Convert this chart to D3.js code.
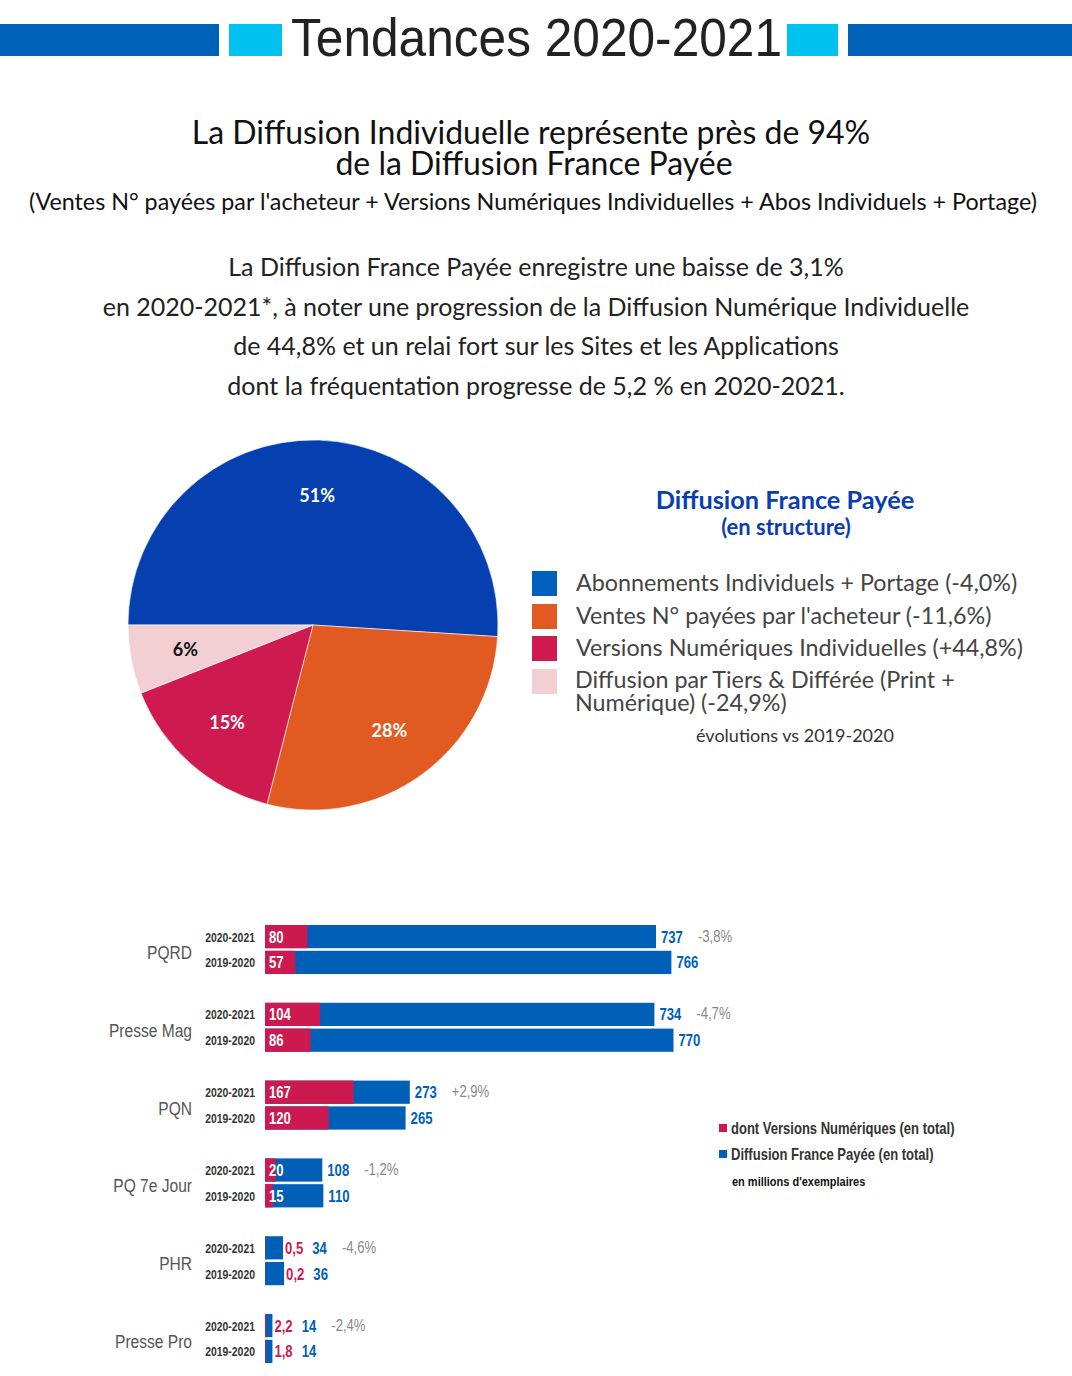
<!DOCTYPE html>
<html><head><meta charset="utf-8">
<script src="https://cdn.jsdelivr.net/npm/d3@7"></script>
<style>
html,body{margin:0;padding:0;background:#fff;}
svg{display:block;}
.lato{font-family:Lato,"Open Sans",sans-serif;}
.narrow{font-family:"Liberation Sans Narrow","Liberation Sans",Arial,sans-serif;}
</style></head>
<body>
<svg id="chart" width="1072" height="1376"></svg>
<script>
// ---------- DATA ----------
const pieLabels = ["Abonnements Individuels + Portage (-4,0%)", "Ventes N° payées par l'acheteur (-11,6%)", "Versions Numériques Individuelles (+44,8%)", "Diffusion par Tiers & Différée (Print + Numérique) (-24,9%)"];
const pieShares = [51, 28, 15, 6];
const pieColors = ["#063fb0", "#e05a22", "#cf1a50", "#f2cfd3"];
const legendColors = ["#0060bd", "#e05a22", "#cf1a50", "#f2cfd3"];

const categories = ["PQRD", "Presse Mag", "PQN", "PQ 7e Jour", "PHR", "Presse Pro"];
const periods = ["2020-2021", "2019-2020"];
const totals2021 = [737, 734, 273, 108, 34, 14];
const totals2020 = [766, 770, 265, 110, 36, 14];
const numeric2021 = [80, 104, 167, 20, 0.5, 2.2];
const numeric2020 = [57, 86, 120, 15, 0.2, 1.8];
const changes = ["-3,8%", "-4,7%", "+2,9%", "-1,2%", "-4,6%", "-2,4%"];

const svg = d3.select("#chart");
const fr = v => String(v).replace(".", ",");
const SX = 0.82; // horizontal condensation to mimic a narrow face

function ntext(g, x, y, size, txt, opts = {}) {
  const el = g.append("text").attr("class", "narrow")
    .attr("transform", `translate(${x},${y}) scale(${SX},1)`)
    .attr("font-size", size)
    .attr("font-weight", opts.weight || 400)
    .attr("fill", opts.fill || "#333")
    .attr("text-anchor", opts.anchor || "start")
    .text(txt);
  return el;
}

// ---------- HEADER ----------
const hdr = svg.append("g");
hdr.append("rect").attr("x", 0).attr("y", 24).attr("width", 219).attr("height", 32).attr("fill", "#0062b8");
hdr.append("rect").attr("x", 229).attr("y", 24).attr("width", 53).attr("height", 32).attr("fill", "#00c2f0");
hdr.append("rect").attr("x", 787).attr("y", 24).attr("width", 51).attr("height", 32).attr("fill", "#00c2f0");
hdr.append("rect").attr("x", 848).attr("y", 24).attr("width", 224).attr("height", 32).attr("fill", "#0062b8");
hdr.append("text").attr("class", "narrow").attr("x", 291).attr("y", 56)
  .attr("font-size", 54).attr("fill", "#222")
  .attr("textLength", 491).attr("lengthAdjust", "spacingAndGlyphs")
  .text("Tendances 2020-2021");

// ---------- TITLES ----------
const t = svg.append("g").attr("class", "lato").attr("text-anchor", "middle").attr("fill", "#111");
const tt1 = t.append("text").attr("font-size", 32);
tt1.append("tspan").attr("x", 531).attr("y", 144).text("La Diffusion Individuelle représente près de 94%");
tt1.append("tspan").attr("x", 534).attr("y", 175).text("de la Diffusion France Payée");
t.append("text").attr("x", 533).attr("y", 210).attr("font-size", 23.3).text("(Ventes N° payées par l'acheteur + Versions Numériques Individuelles + Abos Individuels + Portage)");
const para = ["La Diffusion France Payée enregistre une baisse de 3,1%",
  "en 2020-2021*, à noter une progression de la Diffusion Numérique Individuelle",
  "de 44,8% et un relai fort sur les Sites et les Applications",
  "dont la fréquentation progresse de 5,2 % en 2020-2021."];
para.forEach((p, i) => t.append("text").attr("x", 536).attr("y", 276 + i * 39.7).attr("font-size", 25).attr("fill", "#222").text(p));

// ---------- PIE ----------
const cx = 313, cy = 625, R = 185;
const pie = d3.pie().sort(null).startAngle(-Math.PI / 2).endAngle(1.5 * Math.PI);
const arcs = pie(pieShares);
const arc = d3.arc().innerRadius(0).outerRadius(R);
const labelArc = d3.arc().innerRadius(130).outerRadius(130);
const pg = svg.append("g").attr("transform", `translate(${cx},${cy})`);
pg.selectAll("path").data(arcs).join("path").attr("d", arc).attr("fill", (d, i) => pieColors[i])
  .attr("stroke", "#fff").attr("stroke-width", 0.6);
pg.selectAll("text").data(arcs).join("text").attr("class", "lato")
  .attr("transform", d => `translate(${labelArc.centroid(d)})`)
  .attr("text-anchor", "middle").attr("dy", "0.36em")
  .attr("font-size", 18).attr("font-weight", 700)
  .attr("fill", (d, i) => i === 3 ? "#111" : "#fff")
  .text(d => d.data + "%");

// ---------- PIE LEGEND ----------
const lg = svg.append("g").attr("class", "lato");
lg.append("text").attr("x", 785).attr("y", 509).attr("text-anchor", "middle").attr("font-size", 25.3).attr("font-weight", 700).attr("fill", "#0a3db0").text("Diffusion France Payée");
lg.append("text").attr("x", 786).attr("y", 535).attr("text-anchor", "middle").attr("font-size", 22).attr("font-weight", 700).attr("fill", "#0a3db0").text("(en structure)");
const legY = [571, 604, 636, 669];
pieLabels.forEach((lab, i) => {
  lg.append("rect").attr("x", 532).attr("y", legY[i]).attr("width", 25).attr("height", 25).attr("fill", legendColors[i]);
});
const LFS = 23.3;
lg.append("text").attr("x", 576).attr("y", 591).attr("font-size", LFS).attr("fill", "#444").text(pieLabels[0]);
lg.append("text").attr("x", 576).attr("y", 624).attr("font-size", LFS).attr("fill", "#444").text(pieLabels[1]);
lg.append("text").attr("x", 576).attr("y", 656).attr("font-size", LFS).attr("fill", "#444").text(pieLabels[2]);
const l4 = lg.append("text").attr("font-size", LFS).attr("fill", "#444");
l4.append("tspan").attr("x", 575).attr("y", 688).text("Diffusion par Tiers & Différée (Print +");
l4.append("tspan").attr("x", 575).attr("y", 711).text("Numérique) (-24,9%)");
lg.append("text").attr("x", 795).attr("y", 742).attr("text-anchor", "middle").attr("font-size", 18).attr("fill", "#333").text("évolutions vs 2019-2020");

// ---------- BAR CHART ----------
const x = d3.scaleLinear().domain([0, 770]).range([265, 673.5]);
const yCat = d3.scaleBand().domain(categories).range([925, 925 + 6 * 77.8]);
const yPer = d3.scaleBand().domain(periods).range([0, 49]).paddingInner(0.1);
const rows = [];
categories.forEach((c, i) => {
  rows.push({cat: c, per: periods[0], total: totals2021[i], num: numeric2021[i], change: changes[i]});
  rows.push({cat: c, per: periods[1], total: totals2020[i], num: numeric2020[i], change: null});
});
const bg = svg.append("g");
const BLUE = "#0060b8", CRIM = "#cc1a50";

categories.forEach(c => {
  ntext(bg, 192, yCat(c) + 34, 19, c, {anchor: "end", fill: "#555"});
});

rows.forEach(r => {
  const y0 = yCat(r.cat) + yPer(r.per), h = yPer.bandwidth(), mid = y0 + h / 2;
  ntext(bg, 255, mid + 5, 12.7, r.per, {anchor: "end", weight: 700, fill: "#333"});
  bg.append("rect").attr("x", x(0)).attr("y", y0).attr("width", x(r.total) - x(0)).attr("height", h)
    .attr("fill", BLUE);
  bg.append("rect").attr("x", x(0)).attr("y", y0).attr("width", x(r.num) - x(0)).attr("height", h)
    .attr("fill", CRIM);
  let nx;
  if (r.num >= 10) {
    ntext(bg, x(0) + 4, mid + 6, 16, fr(r.num), {weight: 700, fill: "#fff"});
    nx = x(r.total) + 5;
  } else {
    const tn = ntext(bg, x(r.total) + 2, mid + 6, 16, fr(r.num), {weight: 700, fill: CRIM});
    nx = x(r.total) + 2 + tn.node().getComputedTextLength() * SX + 9;
  }
  const tt = ntext(bg, nx, mid + 6, 16, fr(r.total), {weight: 700, fill: "#0060b8"});
  if (r.change) {
    ntext(bg, nx + tt.node().getComputedTextLength() * SX + 15, mid + 5, 16, r.change, {fill: "#888"});
  }
});

// bar legend
const bl = svg.append("g");
bl.append("rect").attr("x", 719).attr("y", 1124).attr("width", 8).attr("height", 8).attr("fill", CRIM);
ntext(bl, 731, 1134, 15.9, "dont Versions Numériques (en total)", {weight: 700, fill: "#333"});
bl.append("rect").attr("x", 719).attr("y", 1150).attr("width", 8).attr("height", 8).attr("fill", BLUE);
ntext(bl, 731, 1160, 15.9, "Diffusion France Payée (en total)", {weight: 700, fill: "#333"});
ntext(bl, 732, 1186, 13.4, "en millions d'exemplaires", {weight: 700, fill: "#111"});
</script>
</body></html>
